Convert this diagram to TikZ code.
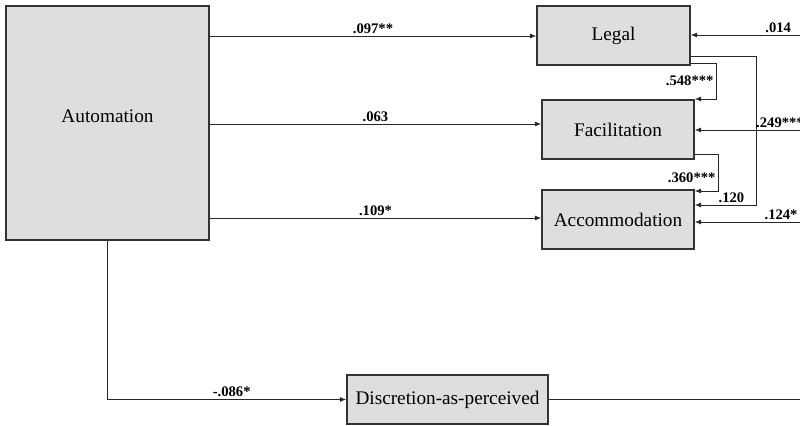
\documentclass[tikz,border=0pt]{standalone}
\usepackage{fontspec}
\setmainfont{Liberation Serif}
\usetikzlibrary{arrows.meta}

\begin{document}
\begin{tikzpicture}[x=0.025cm,y=-0.025cm,>={Latex[length=4.5pt,width=3.5pt]}]

\def\px{0.025cm}

\tikzstyle{construct}=[rectangle,draw=black!80,line width=1pt,fill=black!13,inner sep=0pt,font=\fontsize{13.7}{16}\selectfont]
\tikzstyle{link}=[line width=0.6pt,draw=black!85]
\tikzstyle{coef}=[inner sep=1.5pt,font=\bfseries\fontsize{10.4}{12}\selectfont]

\useasboundingbox (0,0) rectangle (800,426);

%Constructs
\node[construct,minimum width=203*\px,minimum height=234*\px,text depth=14*\px] (automation) at (107.5,123) {Automation};
\node[construct,minimum width=153*\px,minimum height=59*\px] (legal) at (613.5,35.5) {Legal};
\node[construct,minimum width=152*\px,minimum height=59*\px] (facilitation) at (618,129.5) {Facilitation};
\node[construct,minimum width=152*\px,minimum height=59*\px] (accommodation) at (618,219.5) {Accommodation};
\node[construct,minimum width=201*\px,minimum height=49*\px] (discretion) at (447.5,399.5) {Discretion-as-perceived};

%Free ends on the right
\coordinate (rLegal) at (800,35);
\coordinate (rFacilitation) at (800,130);
\coordinate (rAccommodation) at (800,222);
\coordinate (rDiscretion) at (800,401);

%Automation paths
\draw[link,->] (automation.east |- 0,36) -- (legal.west |- 0,36) node[midway,above,coef] {.097**};
\draw[link,->] (automation.east |- 0,124) -- (facilitation.west |- 0,124) node[midway,above,coef] {.063};
\draw[link,->] (automation.east |- 0,218) -- (accommodation.west |- 0,218) node[midway,above,coef] {.109*};
\draw[link,->] (automation.south) |- (discretion.west) node[pos=0.76,above,coef] {-.086*};

%Paths between the outcomes
\draw[link,->] (legal.east |- 0,63) -- (716,63) -- node[left,coef] {.548***} (716,99) -- (facilitation.north east |- 0,99);
\draw[link,->] (facilitation.east |- 0,154) -- (718,154) -- node[left,coef,pos=0.65] {.360***} (718,191) -- (accommodation.east |- 0,191);
\draw[link,->] (legal.east |- 0,56) -- (756,56) -- (756,205) -- node[above,coef,pos=0.4] {.120} (accommodation.east |- 0,205);

%Incoming from the right
\draw[link,->] (rLegal) -- (legal.east |- rLegal) node[pos=0.2,above,coef] {.014};
\draw[link,->] (rFacilitation) -- (facilitation.east |- rFacilitation) node[pos=0.19,above,coef] {.249***};
\draw[link,->] (rAccommodation) -- (accommodation.east |- rAccommodation) node[pos=0.18,above,coef] {.124*};
\draw[link] (discretion.east) -- (discretion.east -| rDiscretion);

\end{tikzpicture}
\end{document}
